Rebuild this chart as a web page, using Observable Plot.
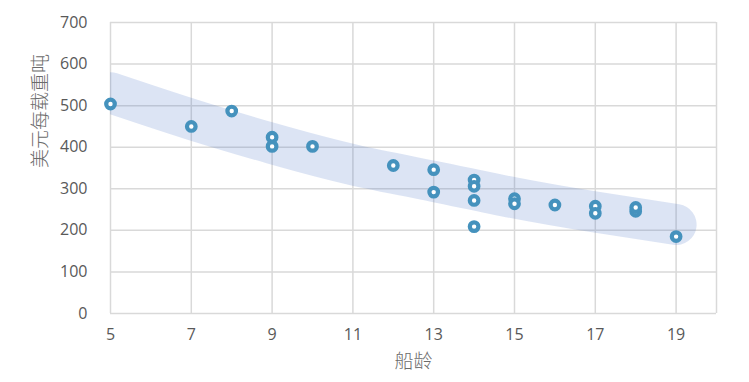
<!DOCTYPE html>
<html>
<head>
<meta charset="utf-8">
<script src="https://cdn.jsdelivr.net/npm/d3@7"></script>
<script src="https://cdn.jsdelivr.net/npm/@observablehq/plot@0.6"></script>
<style>
  html, body { margin: 0; padding: 0; background: #fff; }
</style>
</head>
<body>
<div id="chart"></div>
<script>
// Scatter data (ship age vs USD per DWT)
const ages   = [5, 7, 8, 9, 9, 10, 12, 13, 13, 14, 14, 14, 14, 15, 15, 16, 17, 17, 18, 18, 19];
const prices = [504, 450, 487, 424, 402, 402, 356, 346, 292, 321, 306, 272, 209, 276, 264, 261, 258, 241, 246, 255, 185];

// Trend band centre
const trendAges   = [5, 7, 9, 11, 13, 15, 17, 19];
const trendValues = [531, 467, 409, 358, 318, 278, 244, 214];

const xTicks = [5, 7, 9, 11, 13, 15, 17, 19];
const yTicks = [0, 100, 200, 300, 400, 500, 600, 700];
const xTitle = "船龄";
const yTitle = "美元每载重吨";

const points = ages.map((a, i) => ({age: a, price: prices[i]}));
const trend = trendAges.map((a, i) => ({age: a, price: trendValues[i]}));

const gridColor = "#d9d9d9";
const textColor = "#595959";

const chart = Plot.plot({
  width: 749,
  height: 382,
  marginLeft: 110,
  marginRight: 33,
  marginTop: 22,
  marginBottom: 69,
  style: {fontFamily: "'Open Sans', 'Noto Sans CJK SC', sans-serif", fontSize: "16px", color: textColor, background: "#fff"},
  x: {domain: [5, 20]},
  y: {domain: [0, 700]},
  marks: [
    Plot.ruleY(yTicks, {stroke: gridColor, strokeWidth: 1.5}),
    Plot.ruleX(xTicks, {stroke: gridColor, strokeWidth: 1.5}),
    Plot.ruleX([20], {stroke: gridColor, strokeWidth: 1.5}),
    Plot.line(trend, {x: "age", y: "price", curve: "natural", stroke: "#4472c4", strokeOpacity: 0.19, strokeWidth: 41, strokeLinecap: "round", clip: true}),
    Plot.dot(points, {x: "age", y: "price", r: 4.3, fill: "white", stroke: "#4592bd", strokeWidth: 4.2}),
    Plot.axisX({ticks: xTicks, tickSize: 0, tickPadding: 15, label: null, fill: textColor}),
    Plot.axisY({ticks: yTicks, tickSize: 0, tickPadding: 23, label: null, fill: textColor}),
    Plot.text([xTitle], {frameAnchor: "bottom", dy: 54, fontSize: 19, fill: "#6b6b6b", fontFamily: "'Noto Sans CJK SC', sans-serif", fontWeight: 300}),
    Plot.text([yTitle], {frameAnchor: "left", dx: -70, rotate: -90, fontSize: 19, fill: "#6b6b6b", fontFamily: "'Noto Sans CJK SC', sans-serif", fontWeight: 300})
  ]
});
document.getElementById("chart").appendChild(chart);
</script>
</body>
</html>
